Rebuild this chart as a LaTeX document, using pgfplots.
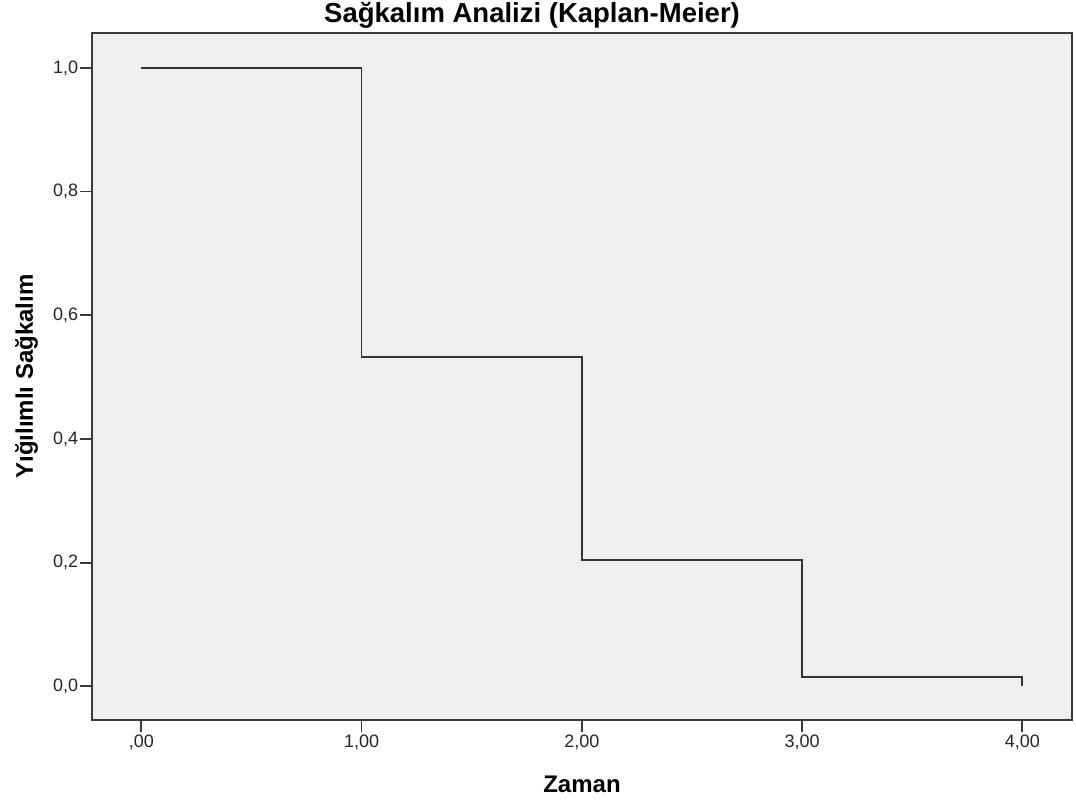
\documentclass[border=0pt]{standalone}
\usepackage{pgfplots}
\pgfplotsset{compat=1.18}
\usepackage{fontspec}
\setmainfont{Liberation Sans}
\definecolor{bgc}{HTML}{F0F0F0}
\definecolor{lnc}{HTML}{333333}
\definecolor{axc}{HTML}{3A3A3A}
\begin{document}
\begin{tikzpicture}
\path[use as bounding box] (-92.3pt,-82pt) rectangle (983.7pt,720pt);
\begin{axis}[
  scale only axis,
  width=979.4pt, height=686.7pt,
  xmin=-0.2225, xmax=4.224,
  ymin=-0.0545, ymax=1.056,
  axis background/.style={fill=bgc},
  axis line style={draw=axc, line width=1.6pt},
  tick align=outside,
  xtick pos=lower, ytick pos=left,
  major tick length=12pt,
  tick style={draw=axc, line width=1.8pt},
  xtick={0,1,2,3,4},
  xticklabels={{,00},{1,00},{2,00},{3,00},{4,00}},
  ytick={0,0.2,0.4,0.6,0.8,1},
  yticklabels={{0,0},{0,2},{0,4},{0,6},{0,8},{1,0}},
  /pgf/number format/assume math mode=true,
  tick label style={font=\fontsize{18}{20}\selectfont, text=black!85},
  yticklabel style={inner sep=2pt},
  xticklabel style={inner sep=3pt},
  clip=false,
]
\addplot[const plot, draw=lnc, line width=1.8pt, line join=miter] coordinates {
  (0,1) (1,0.532) (2,0.204) (3,0.0155) (4,0.0155) (4,0)
};
\node[anchor=base, font=\bfseries\fontsize{27.5}{32}\selectfont] at (axis description cs:0.449,1) [yshift=10.5pt] {Sağkalım Analizi (Kaplan-Meier)};
\node[anchor=base, font=\bfseries\fontsize{24}{28}\selectfont] at (axis description cs:0.5,0) [yshift=-73pt] {Zaman};
\node[anchor=base, rotate=90, font=\bfseries\fontsize{24}{28}\selectfont] at (axis description cs:0,0.5) [yshift=59.3pt] {Yığılımlı Sağkalım};
\end{axis}
\end{tikzpicture}
\end{document}
